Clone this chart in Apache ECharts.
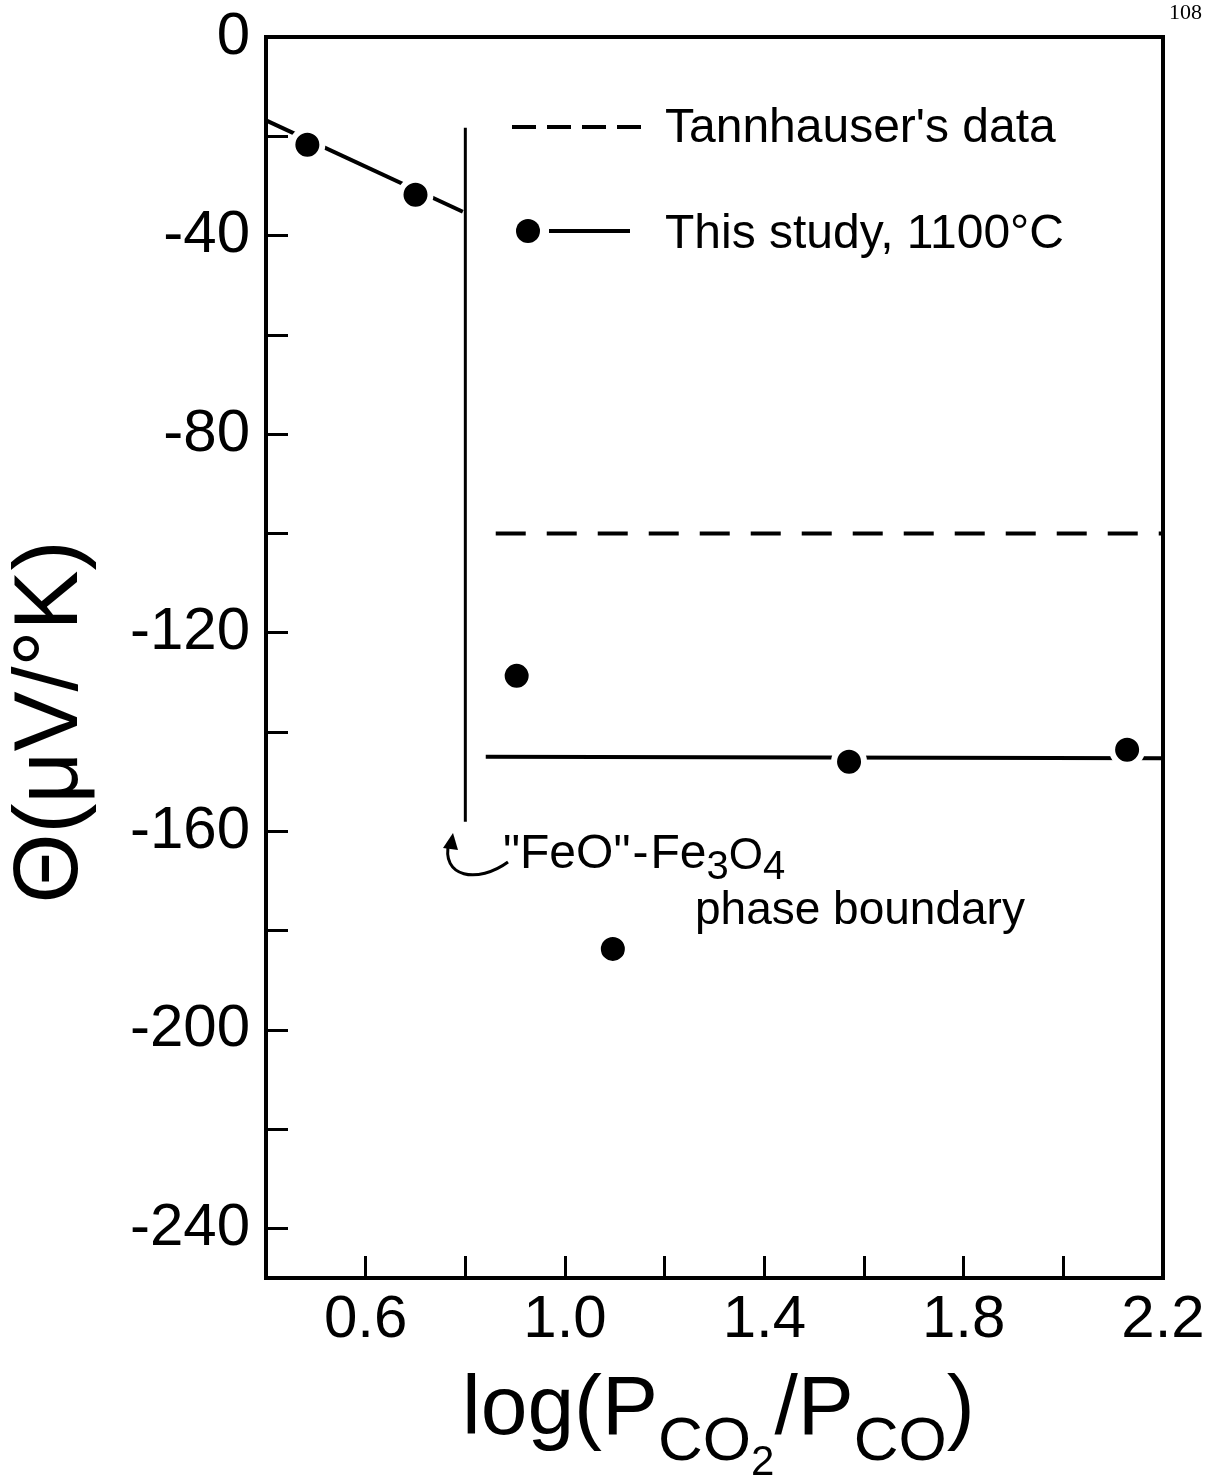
<!DOCTYPE html>
<html>
<head>
<meta charset="utf-8">
<script src="https://cdn.jsdelivr.net/npm/echarts@6/dist/echarts.min.js"></script>
<style>
  html, body { margin: 0; padding: 0; background: #fff; }
  #chart { width: 1211px; height: 1479px; }
</style>
</head>
<body>
<div id="chart"></div>
<script>
// Thermoelectric power of wustite vs. log(P_CO2/P_CO)
const studyX = [0.483, 0.700, 0.903, 1.096, 1.570, 2.128];
const studyY = [-21.7, -31.8, -128.7, -183.7, -146.0, -143.6];

// fitted lines through this study's points (two regions)
const lowFitX = [0.40, 0.795];
const lowFitY = [-16.8, -35.2];
const highFitX = [0.841, 2.20];
const highFitY = [-145.0, -145.3];

// Tannhauser's data
const tannX = [0.861, 2.20];
const tannY = [-100, -100];

// "FeO"-Fe3O4 phase boundary
const boundaryX = [0.80, 0.80];
const boundaryY = [-18.3, -158.1];

// axis ticks and labels
const xTickValues = [0.6, 0.8, 1.0, 1.2, 1.4, 1.6, 1.8, 2.0];
const xLabelValues = [0.6, 1.0, 1.4, 1.8, 2.2];
const yTickValues = [-240, -220, -200, -180, -160, -140, -120, -100, -80, -60, -40, -20];
const yLabelValues = [0, -40, -80, -120, -160, -200, -240];

const FONT = '"Liberation Sans", Arial, sans-serif';

const zip = (xs, ys) => xs.map((x, i) => [x, ys[i]]);

// lay out a run of text pieces (for subscripts) along one baseline
const measureCtx = document.createElement('canvas').getContext('2d');
function textRun(pieces, x0, baseline) {
  const out = [];
  let x = x0;
  pieces.forEach(p => {
    measureCtx.font = p.size + 'px ' + FONT;
    const w = measureCtx.measureText(p.text).width;
    const b = baseline + (p.dy || 0);
    out.push({
      type: 'text',
      x: x, y: b - 0.3465 * p.size,
      style: { text: p.text, font: p.size + 'px ' + FONT, fill: '#000', align: 'left', verticalAlign: 'middle' },
      z: 100
    });
    x += w + (p.gap || 0);
  });
  return out;
}

const chart = echarts.init(document.getElementById('chart'), null, { renderer: 'canvas' });

const graphics = [].concat(
  // page number
  [{
    type: 'text', right: 9, top: 2,
    style: { text: '108', font: '22px "Liberation Serif", serif', fill: '#000' }
  }],
  // legend samples
  [{
    type: 'line', shape: { x1: 512, y1: 127, x2: 644, y2: 127 },
    style: { stroke: '#000', lineWidth: 4, lineDash: [24, 11] }, z: 100
  }, {
    type: 'circle', shape: { cx: 528, cy: 231, r: 12 },
    style: { fill: '#000' }, z: 100
  }, {
    type: 'line', shape: { x1: 549, y1: 231, x2: 630, y2: 231 },
    style: { stroke: '#000', lineWidth: 4 }, z: 100
  }],
  textRun([{ text: "Tannhauser's data", size: 48 }], 665, 145),
  textRun([{ text: 'This study, 1100°C', size: 48 }], 665, 251),
  // phase boundary annotation
  textRun([
    { text: '"FeO"', size: 48, gap: 2 },
    { text: '-', size: 48, gap: 2 },
    { text: 'Fe', size: 48 },
    { text: '3', size: 40, dy: 11 },
    { text: 'O', size: 44, dy: 1 },
    { text: '4', size: 40, dy: 11 }
  ], 503, 871),
  textRun([{ text: 'phase boundary', size: 46 }], 695, 927),
  [{
    type: 'bezierCurve',
    shape: { x1: 508, y1: 862, cpx1: 478, cpy1: 884, cpx2: 440, cpy2: 878, x2: 449, y2: 842 },
    style: { stroke: '#000', lineWidth: 3, fill: null }, z: 100
  }, {
    type: 'polygon',
    shape: { points: [[443, 848], [453, 833], [458, 850]] },
    style: { fill: '#000' }, z: 100
  }],
  // axis titles
  textRun([
    { text: 'log(P', size: 84 },
    { text: 'CO', size: 62, dy: 24 },
    { text: '2', size: 42, dy: 38 },
    { text: '/P', size: 84 },
    { text: 'CO', size: 62, dy: 24 },
    { text: ')', size: 84 }
  ], 462, 1440),
  [{
    type: 'text', x: 52, y: 722, rotation: Math.PI / 2,
    style: { text: 'Θ(μV/°K)', font: '90px ' + FONT, fill: '#000', align: 'center', verticalAlign: 'middle' },
    z: 100
  }]
);

const option = {
  animation: false,
  backgroundColor: '#fff',
  grid: {
    left: 266, right: 48, top: 37, bottom: 201,
    show: true, borderColor: '#000', borderWidth: 4, backgroundColor: 'transparent'
  },
  xAxis: {
    type: 'value', min: 0.4, max: 2.2,
    axisLine: { show: true, onZero: false, lineStyle: { color: '#000', width: 4 } },
    axisTick: { show: true, inside: true, length: 22, customValues: xTickValues, lineStyle: { color: '#000', width: 3 } },
    axisLabel: {
      show: true, customValues: xLabelValues, margin: 12,
      fontFamily: FONT, fontSize: 60, color: '#000',
      formatter: v => v.toFixed(1)
    },
    splitLine: { show: false }
  },
  yAxis: {
    type: 'value', min: -250, max: 0,
    axisLine: { show: true, onZero: false, lineStyle: { color: '#000', width: 4 } },
    axisTick: { show: true, inside: true, length: 22, customValues: yTickValues, lineStyle: { color: '#000', width: 3 } },
    axisLabel: {
      show: true, customValues: yLabelValues, margin: 16,
      fontFamily: FONT, fontSize: 60, color: '#000',
      formatter: v => String(Math.round(v))
    },
    splitLine: { show: false }
  },
  series: [
    {
      name: 'Tannhauser', type: 'line', data: zip(tannX, tannY),
      symbol: 'none', lineStyle: { color: '#000', width: 4, type: [30, 21] }, z: 2
    },
    {
      name: 'fit low', type: 'line', data: zip(lowFitX, lowFitY),
      symbol: 'none', lineStyle: { color: '#000', width: 4 }, z: 2
    },
    {
      name: 'fit high', type: 'line', data: zip(highFitX, highFitY),
      symbol: 'none', lineStyle: { color: '#000', width: 4 }, z: 2
    },
    {
      name: 'phase boundary', type: 'line', data: zip(boundaryX, boundaryY),
      symbol: 'none', lineStyle: { color: '#000', width: 3 }, z: 2
    },
    {
      name: 'This study, 1100°C', type: 'scatter', data: zip(studyX, studyY),
      symbol: 'circle', symbolSize: 30,
      itemStyle: { color: '#000', borderColor: '#fff', borderWidth: 6, opacity: 1 },
      z: 5
    }
  ],
  graphic: graphics
};

chart.setOption(option);
</script>
</body>
</html>
